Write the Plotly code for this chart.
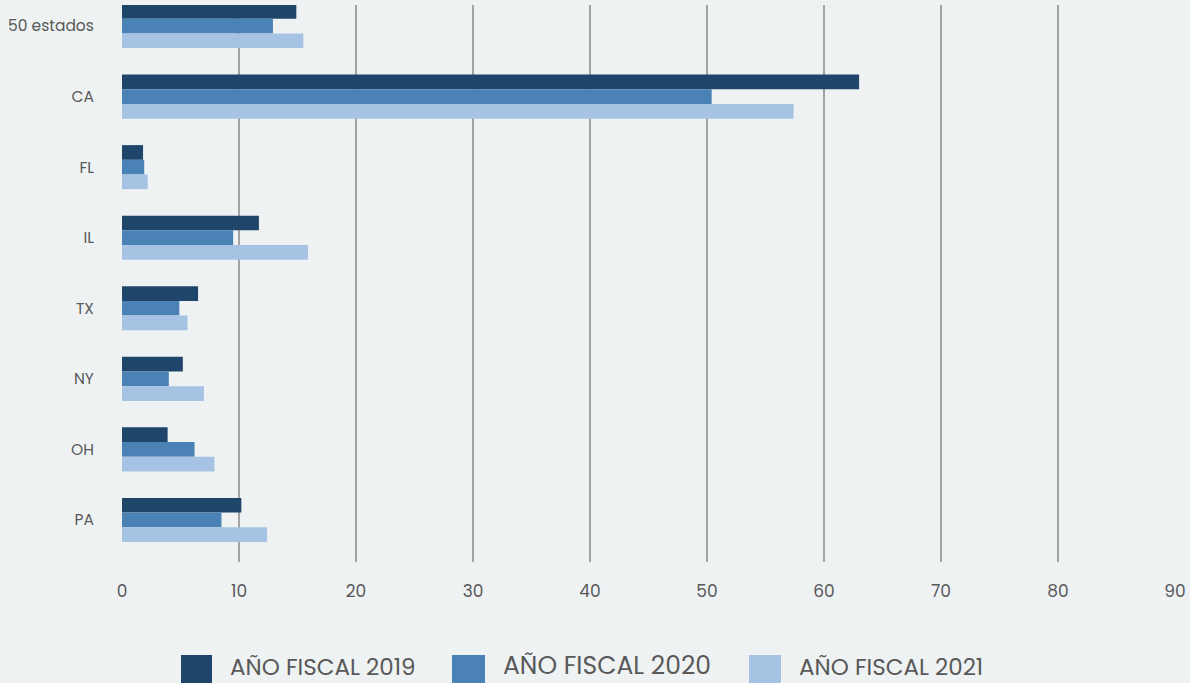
import plotly.graph_objects as go

# values
states = ["50 estados", "CA", "FL", "IL", "TX", "NY", "OH", "PA"]
fy2019 = [14.9, 63.0, 1.8, 11.7, 6.5, 5.2, 3.9, 10.2]
fy2020 = [12.9, 50.4, 1.9, 9.5, 4.9, 4.0, 6.2, 8.5]
fy2021 = [15.5, 57.4, 2.2, 15.9, 5.6, 7.0, 7.9, 12.4]
series_names = ["AÑO FISCAL 2019", "AÑO FISCAL 2020", "AÑO FISCAL 2021"]
x_ticks = [0, 10, 20, 30, 40, 50, 60, 70, 80, 90]

colors = ["#1F456B", "#4B82B5", "#A6C3E3"]
bg = "#EEF2F3"
text_color = "#595959"
font_family = "Poppins, Inter, Open Sans, sans-serif"

fig = go.Figure()
for name, vals, col in zip(series_names, [fy2019, fy2020, fy2021], colors):
    fig.add_trace(go.Bar(
        y=states, x=vals, name=name, orientation="h",
        marker=dict(color=col, line=dict(width=0)),
        showlegend=False,
    ))

# hand-made legend, the reference uses tall swatches
legend_items = [
    (series_names[0], colors[0], 181, 212, 23, 667),
    (series_names[1], colors[1], 452, 485, 25, 665),
    (series_names[2], colors[2], 749, 781, 23, 667),
]
W, H = 1190, 683
ml, mr, mt, mb = 122, 15, 5, 121
pw, ph = W - ml - mr, H - mt - mb


def px_x(x):
    return (x - ml) / pw


def px_y(y):
    return (H - mb - y) / ph


for name, col, x0, x1, fs, ty in legend_items:
    fig.add_shape(type="rect", xref="paper", yref="paper",
                  x0=px_x(x0), x1=px_x(x1), y0=px_y(655), y1=px_y(690),
                  fillcolor=col, line=dict(width=0), layer="above")
    fig.add_annotation(xref="paper", yref="paper", x=px_x(x1 + 16), y=px_y(ty),
                       text=name, showarrow=False, xanchor="left", yanchor="middle",
                       font=dict(family=font_family, size=fs, color=text_color))

fig.update_layout(
    width=W, height=H,
    margin=dict(l=ml, r=mr, t=mt, b=mb),
    paper_bgcolor=bg, plot_bgcolor=bg,
    barmode="group", bargap=0.375, bargroupgap=0,
    font=dict(family=font_family, color=text_color),
    xaxis=dict(
        range=[0, 90], tickvals=x_ticks, showgrid=True, gridcolor="#A3A3A3", gridwidth=1.5,
        zeroline=False, showline=False, ticks="outside", ticklen=14, tickcolor=bg,
        tickfont=dict(size=17, color=text_color),
    ),
    yaxis=dict(
        categoryorder="array", categoryarray=states,
        range=[7.596, -0.298], showgrid=False, zeroline=False, showline=False,
        ticks="outside", ticklen=24, tickcolor=bg,
        tickfont=dict(size=15.5, color=text_color),
    ),
)

fig.write_html("out.html", config={"displayModeBar": False},
               post_script="document.body.style.margin='0';document.body.style.overflow='hidden';")
